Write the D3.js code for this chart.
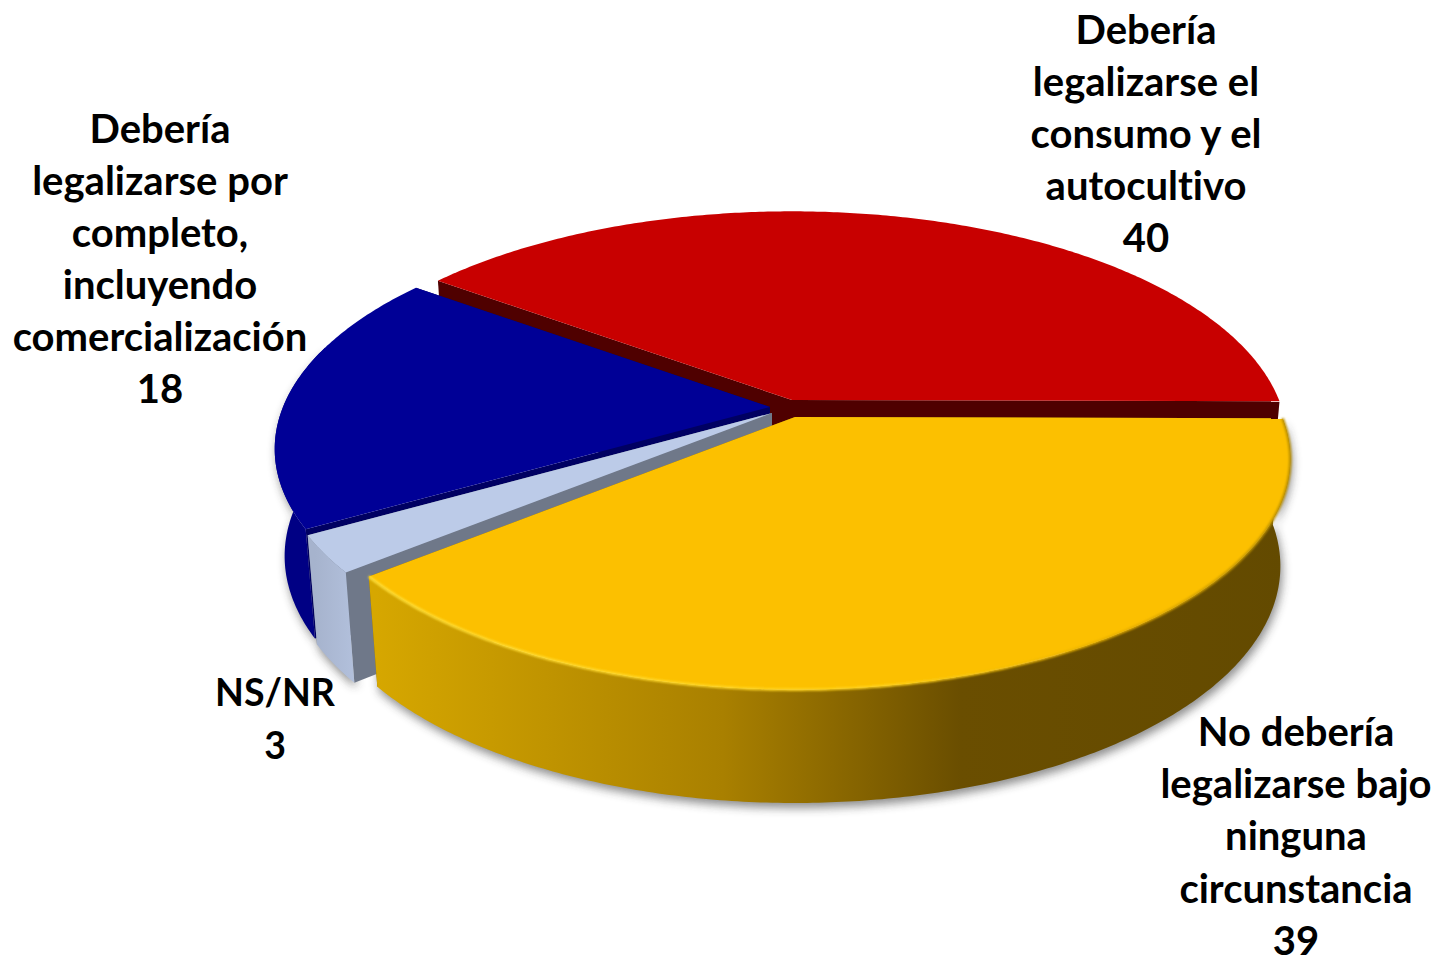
<!DOCTYPE html>
<html>
<head>
<meta charset="utf-8">
<script src="https://cdn.jsdelivr.net/npm/d3@7/dist/d3.min.js"></script>
<style>
html,body{margin:0;padding:0;background:#fff;overflow:hidden}
svg{display:block}
text{font-family:Lato,"Open Sans",sans-serif;font-weight:700;fill:#000;font-variant-ligatures:none}
</style>
</head>
<body>
<svg id="chart" width="1435" height="956"></svg>
<script>
// Data (drawing order follows the pie, clockwise from the right)
const categories = ["No debería legalizarse bajo ninguna circunstancia", "NS/NR",
  "Debería legalizarse por completo, incluyendo comercialización",
  "Debería legalizarse el consumo y el autocultivo"];
const values = [39, 2.6, 18.4, 40];
const labelLines = [
  ["No debería", "legalizarse bajo", "ninguna", "circunstancia"],
  ["NS/NR"],
  ["Debería", "legalizarse por", "completo,", "incluyendo", "comercialización"],
  ["Debería", "legalizarse el", "consumo y el", "autocultivo"]
];

// Layout and style, separate from the data
const apexes = [[795, 417], [772, 413], [770, 407], [792, 400]];
const labelAnchors = [[1296, 732], [275, 693], [160, 129], [1146, 30]];
const labelSizes = [40, 37.5, 40, 40];
const labelSteps = [52.2, 53, 52, 52];
const topColors = ["#fcc000", "#bccbe8", "#000096", "#c80000"];
const cutColors = ["#8a6900", "#6f7889", "#000062", "#4f0000"];
const wallColors = ["url(#wallYellow)", "url(#wallGray)", "#000084", "#7a0000"];
const paintOrder = [3, 2, 1, 0];
const Rx = 487, Ry = 223, persp = 0.182, depth = 106, bottomX = 0.98, bottomY = 1.027;
const wallLimit = Math.PI * 1.09;

const svg = d3.select("#chart");
const defs = svg.append("defs");

function gradient(id, stops, x1, x2) {
  const g = defs.append("linearGradient").attr("id", id)
    .attr("gradientUnits", "userSpaceOnUse")
    .attr("x1", x1).attr("x2", x2).attr("y1", 0).attr("y2", 0);
  stops.forEach(s => g.append("stop").attr("offset", s[0]).attr("stop-color", s[1]));
}
gradient("wallYellow", [[0, "#d6a700"], [0.38, "#a98000"], [0.64, "#6a4e00"], [1, "#634a00"]], 375, 1290);
gradient("wallGray", [[0, "#a6b3cd"], [1, "#b4c2de"]], 315, 360);
gradient("rimYellow", [[0, "#ffdf3a"], [0.55, "#ffd21c"], [0.82, "#e5ad00"], [1, "#b88e00"]], 375, 1290);

const blur = defs.append("filter").attr("id", "soft")
  .attr("x", "-10%").attr("y", "-10%").attr("width", "120%").attr("height", "125%");
blur.append("feGaussianBlur").attr("stdDeviation", 5);
const blurRim = defs.append("filter").attr("id", "softRim")
  .attr("x", "-5%").attr("y", "-5%").attr("width", "110%").attr("height", "110%");
blurRim.append("feGaussianBlur").attr("stdDeviation", 0.9);

const pie = d3.pie().sort(null).value(d => d)
  .startAngle(0.006).endAngle(Math.PI * 2 + 0.006);
const arcs = pie(values);

// Perspective projection of a disk point; level 0 = top face, 1 = bottom face
function project(i, angle, radius, level) {
  const X = radius * Math.cos(angle), Y = radius * Math.sin(angle);
  const w = 1 - persp * Y;
  const [ax, ay] = apexes[i];
  return [
    ax + Rx * X / w * (level ? bottomX : 1),
    ay + Ry * Y / w * (level ? bottomY : 1) + (level ? depth : 0)
  ];
}
const line = d3.line();
function rim(i, a0, a1, level) {
  const n = Math.max(2, Math.ceil(Math.abs(a1 - a0) / 0.01));
  return d3.range(n + 1).map(k => project(i, a0 + (a1 - a0) * k / n, 1, level));
}
const closed = pts => line(pts) + "Z";

const shapes = paintOrder.map(i => {
  const a = arcs[i];
  const wallEnd = Math.min(a.endAngle, wallLimit);
  return {
    i,
    top: closed([project(i, 0, 0, 0), ...rim(i, a.startAngle, a.endAngle, 0)]),
    wall: a.startAngle < wallLimit
      ? closed([...rim(i, a.startAngle, wallEnd, 0), ...rim(i, wallEnd, a.startAngle, 1)])
      : null,
    cutStart: closed([project(i, 0, 0, 0), project(i, a.startAngle, 1, 0), project(i, a.startAngle, 1, 1), project(i, 0, 0, 1)]),
    cutEnd: closed([project(i, 0, 0, 0), project(i, a.endAngle, 1, 0), project(i, a.endAngle, 1, 1), project(i, 0, 0, 1)])
  };
});

// Soft shadow beneath the solid
const shadow = svg.append("g").attr("filter", "url(#soft)")
  .attr("transform", "translate(2,5)").attr("opacity", 0.55);
shadow.selectAll("path").data(shapes.filter(d => d.wall)).join("path")
  .attr("d", d => d.wall).attr("fill", "#333");

// Solid slices, back to front
const groups = svg.selectAll("g.slice").data(shapes).join("g").attr("class", "slice");
groups.append("path").attr("d", d => d.cutEnd).attr("fill", d => cutColors[d.i]);
groups.append("path").attr("d", d => d.cutStart).attr("fill", d => cutColors[d.i]);
groups.filter(d => d.wall).append("path").attr("d", d => d.wall).attr("fill", d => wallColors[d.i]);
groups.append("path").attr("d", d => d.top).attr("fill", d => topColors[d.i]);

// Bevel highlight on the front slice rim
const front = arcs[0];
svg.append("path")
  .attr("d", line(rim(0, front.startAngle, front.endAngle, 0)))
  .attr("fill", "none").attr("stroke", "url(#rimYellow)").attr("stroke-width", 2.6)
  .attr("filter", "url(#softRim)");

// Labels: wrapped name followed by the rounded value
const fmt = d3.format(".0f");
const labels = svg.selectAll("text.label").data(arcs).join("text")
  .attr("class", "label")
  .attr("text-anchor", "middle")
  .attr("font-size", (d, k) => labelSizes[k]);
labels.each(function (d, k) {
  const [lx, ly] = labelAnchors[k];
  d3.select(this).selectAll("tspan")
    .data([...labelLines[k], fmt(d.value)])
    .join("tspan")
    .attr("x", lx)
    .attr("y", (t, j) => ly + j * labelSteps[k] + labelSizes[k] * 0.35)
    .text(t => t);
});
</script>
</body>
</html>
